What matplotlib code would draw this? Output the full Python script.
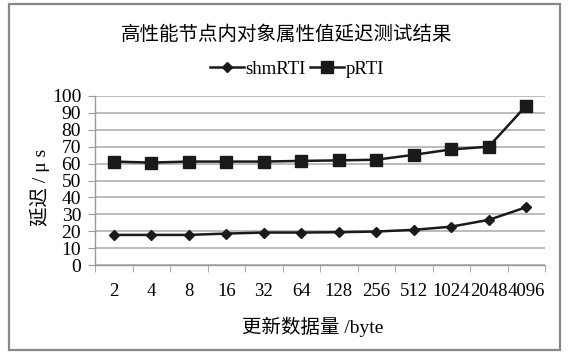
import matplotlib
matplotlib.use("Agg")
import matplotlib.pyplot as plt
from matplotlib.patches import Rectangle
import numpy as np

plt.rcParams['font.family'] = ['Liberation Serif', 'Noto Sans CJK SC', 'DejaVu Sans']

# update size (byte) and measured latency (us)
sizes = ['2', '4', '8', '16', '32', '64', '128', '256', '512', '1024', '2048', '4096']
shm_rti = [17.8, 17.8, 17.8, 18.6, 19.2, 19.2, 19.4, 19.8, 20.8, 22.7, 26.7, 34.2]
p_rti = [61.2, 60.6, 61.2, 61.2, 61.2, 61.6, 61.9, 62.3, 65.2, 68.4, 70.0, 94.3]

fig = plt.figure(figsize=(5.68, 3.53), dpi=100)
ax = fig.add_axes([95/568, 1-265/353, 450/568, 169/353])

x = np.arange(len(sizes))
ax.plot(x, shm_rti, color='#1a1a1a', lw=1.8, marker='D', markersize=5.5, label='shmRTI')
ax.plot(x, p_rti, color='#1a1a1a', lw=1.8, marker='s', markersize=8, label='pRTI')

ax.set_xlim(-0.5, len(sizes) - 0.5)
ax.set_ylim(0, 100)
ax.set_yticks(np.arange(0, 101, 10))
ax.set_xticks(x)
ax.set_xticklabels(sizes)
ax.set_xticks(np.arange(-0.5, len(sizes), 1), minor=True)
ax.grid(axis='y', color='#a8a8a8', lw=1.1)
ax.set_axisbelow(True)

for side in ['top', 'right']:
    ax.spines[side].set_visible(False)
for side in ['left', 'bottom']:
    ax.spines[side].set_color('#999999')
    ax.spines[side].set_linewidth(1.0)

ax.tick_params(axis='y', which='major', length=5, color='#999999', labelsize=14, pad=5)
ax.tick_params(axis='x', which='major', length=0, labelsize=13.5, pad=13)
ax.tick_params(axis='x', which='minor', length=5, color='#999999')

fig.text(0.504, 1-34/353, '高性能节点内对象属性值延迟测试结果', ha='center', va='center',
         fontsize=14, family=['Noto Sans CJK SC'])
fig.text(313/568, 1-327/353, '更新数据量 /byte', ha='center', va='center', fontsize=14)
fig.text(40/568, 1-187/353, '延迟 / μ s', ha='center', va='center', rotation=90, fontsize=14)

fig.legend(loc='center', bbox_to_anchor=(297/568, 1-69/353), ncol=2, frameon=False,
           fontsize=13.5, handlelength=1.8, handletextpad=0.1, columnspacing=0.2)

fig.add_artist(Rectangle((9/568, 3/353), 551/568, 346/353, transform=fig.transFigure,
                         fill=False, edgecolor='#888888', lw=1.6))

fig.savefig('out.png', dpi=100)
